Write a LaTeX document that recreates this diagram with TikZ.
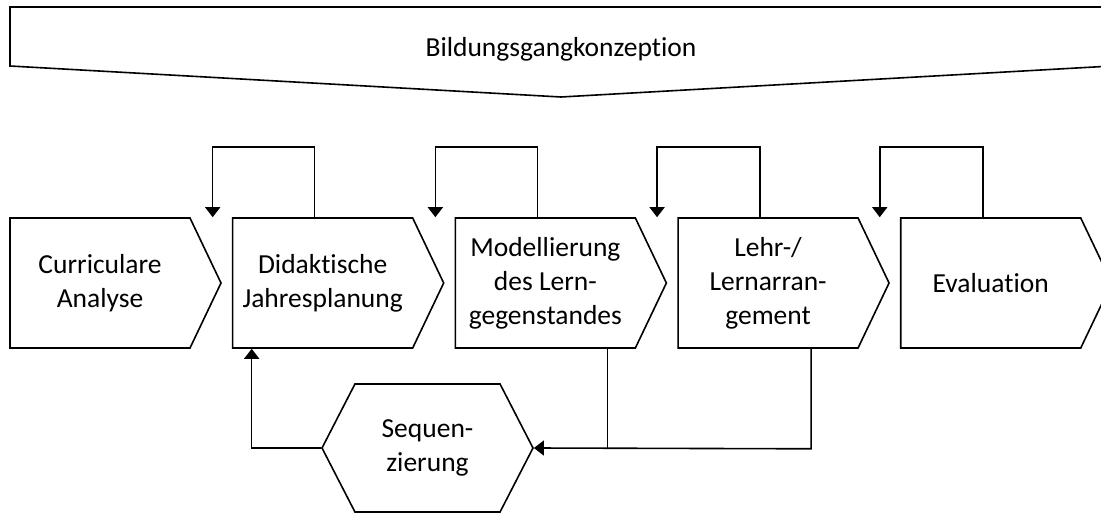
\documentclass[tikz,border=0pt]{standalone}
\usepackage{fontspec}
\setmainfont{Carlito}[Ligatures=NoCommon]
\usetikzlibrary{positioning,arrows.meta,shapes.symbols}

\begin{document}
\begin{tikzpicture}[x=1pt, y=-1pt, line width=1.6pt, >={Triangle[width=15pt,length=10pt]},
    font=\fontsize{27.5}{34}\selectfont,
    phase/.style={draw, signal, signal to=east, signal from=nowhere, signal pointer angle=129,
        minimum width=211pt, minimum height=130pt, inner sep=0pt, align=center},
    hexa/.style={draw, signal, signal to=east and west, signal pointer angle=125.5,
        minimum width=211pt, minimum height=128pt, inner sep=0pt, align=center}]
    \useasboundingbox (0,0) rectangle (1101,513);

    % Bildungsgang banner
    \draw (10,7) -- (1112,7) -- (1112,66) -- (561,97) -- (10,66) -- cycle;
    \node (bgk) [anchor=base] at (561,57) {Bildungsgangkonzeption};

    \node[phase] (ca) at (100,283) {Curriculare\\Analyse};
    \node[phase] (jp) [right=10pt of ca] {Didaktische\\Jahresplanung};
    \node[phase] (ml) [right=10pt of jp] {Modellierung\\des Lern-\\gegenstandes};
    \node[phase] (la) [right=10pt of ml] {Lehr-/\\Lernarran-\\gement};
    \node[phase] (ev) [right=10pt of la] {Evaluation};
    \node[hexa] (sq) at (427.5,448) {Sequen-\\zierung};

    % feedback loops
    \draw[->] ([xshift=-8pt]jp.north) -- ++(0,-70) -| ++(-102,70);
    \draw[->] ([xshift=-8pt]ml.north) -- ++(0,-70) -| ++(-102,70);
    \draw[->] ([xshift=-8pt]la.north) -- ++(0,-70) -| ++(-103,70);
    \draw[->] ([xshift=-8pt]ev.north) -- ++(0,-70) -| ++(-103,70);

    \draw ([xshift=62pt]ml.south) -- ++(0,100);
    \draw[->] ([xshift=43pt]la.south) -- ++(0,100) -- (sq.east);
    \draw[->] (sq.west) -| ([xshift=-71pt]jp.south);
    %\draw[->] (ev.south) |- (sq.east);
\end{tikzpicture}
\end{document}
